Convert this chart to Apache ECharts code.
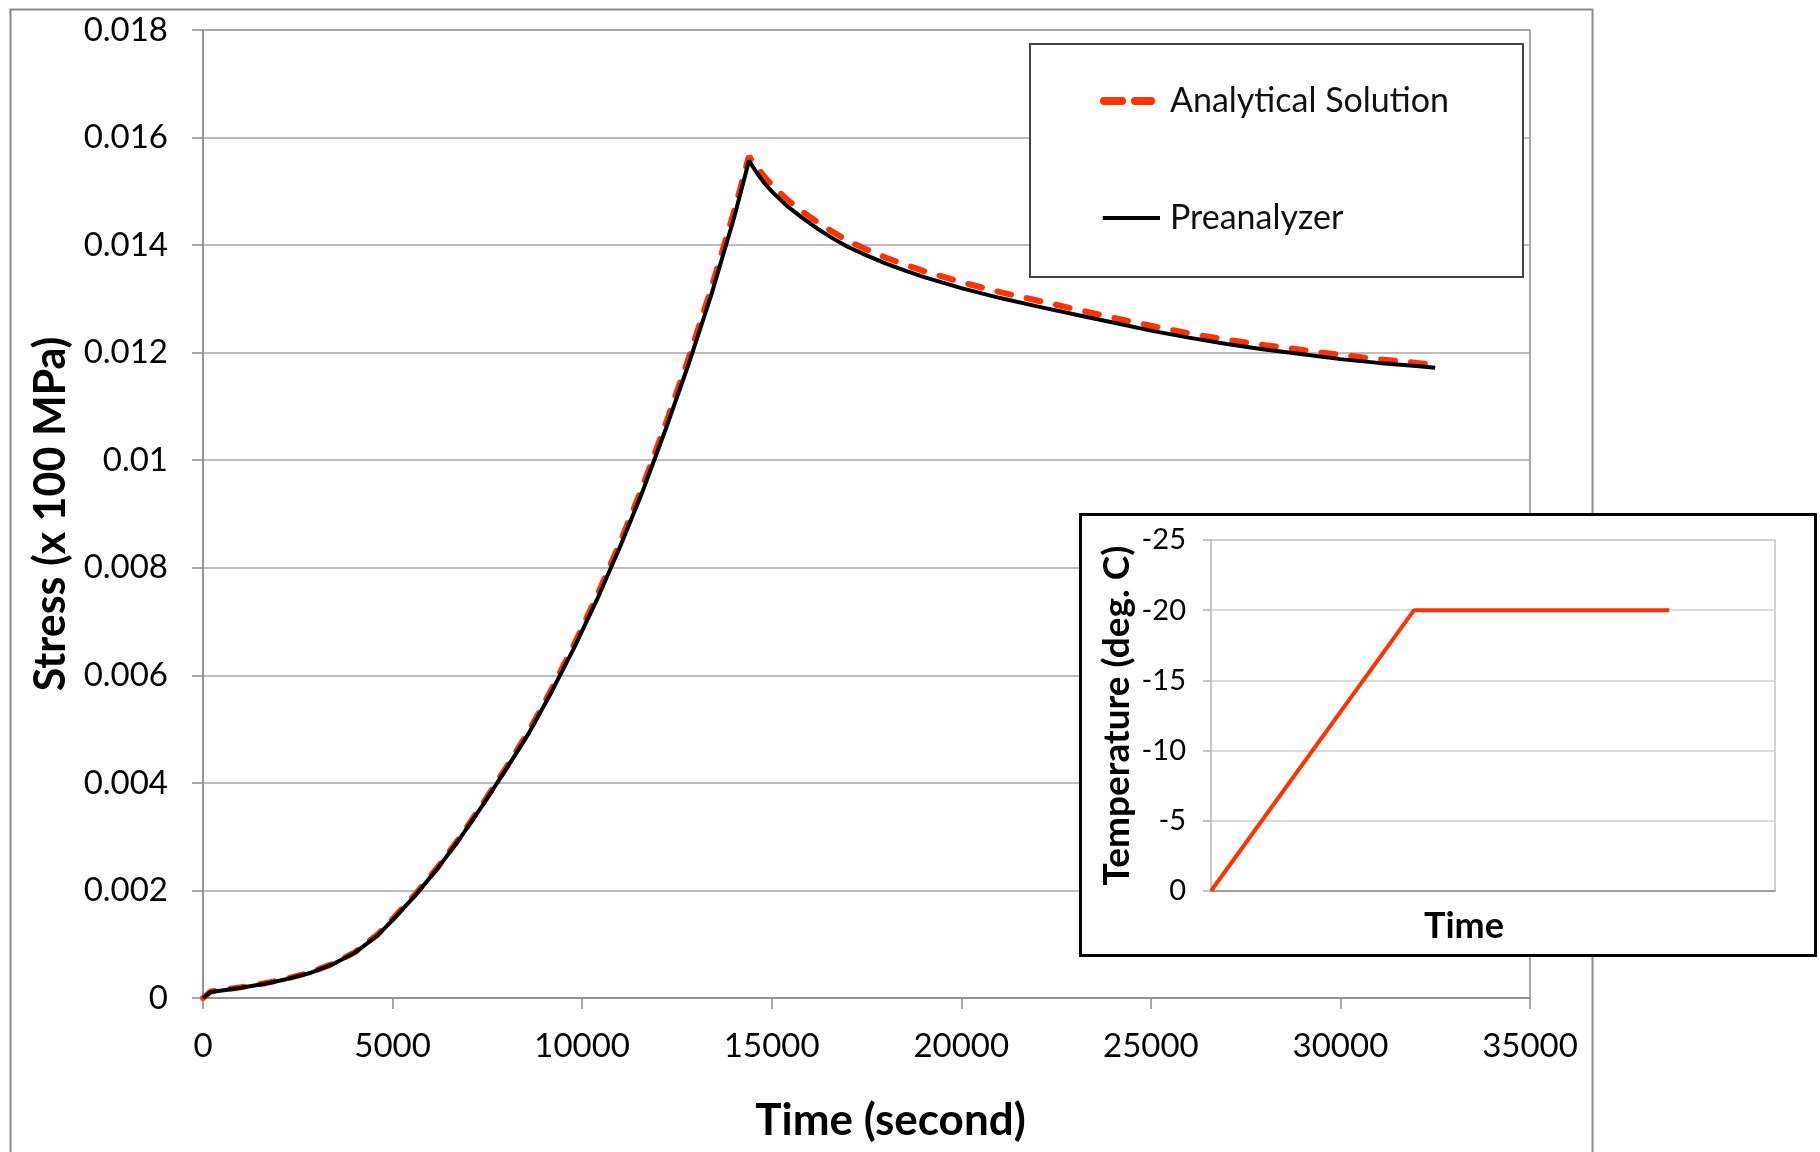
<!DOCTYPE html>
<html>
<head>
<meta charset="utf-8">
<title>Stress vs Time</title>
<script src="https://cdn.jsdelivr.net/npm/echarts@6/dist/echarts.min.js"></script>
<style>
  html, body { margin: 0; padding: 0; background: #fff; }
  #chart { width: 1820px; height: 1152px; }
</style>
</head>
<body>
<div id="chart"></div>
<script>
// main chart: time (s) and stress (x 100 MPa)
var times = [0, 200, 600, 1000, 1600, 2200, 2800, 3400, 4000, 4600, 5000, 5600, 6200, 6800, 7400,
  8000, 8600, 9200, 9800, 10400, 11000, 11600, 12200, 12800, 13400, 14000, 14400,
  14600, 14800, 15000, 15400, 15800, 16200, 16600, 17000, 17500, 18000, 18500, 19000,
  20000, 21000, 22000, 23000, 24000, 25000, 26000, 27000, 28000, 29000, 30000, 31000, 32000, 32500];
var analytical = [0, 0.00012, 0.00016, 0.0002, 0.00027, 0.00036, 0.00047, 0.00063, 0.00085, 0.00118, 0.00147, 0.00193, 0.00244, 0.00301, 0.00364,
  0.00429, 0.00497, 0.00575, 0.00659, 0.00749, 0.00847, 0.00952, 0.01067, 0.01188, 0.01318, 0.01461, 0.01565,
  0.01546, 0.01528, 0.01512, 0.01485, 0.01463, 0.01443, 0.01425, 0.01408, 0.01392, 0.01377, 0.01364, 0.01352,
  0.01331, 0.01313, 0.01297, 0.01281, 0.01265, 0.0125, 0.01236, 0.01224, 0.01214, 0.01205, 0.01196, 0.01188, 0.01181, 0.01177];
var preanalyzer = [0, 0.00011, 0.00015, 0.00019, 0.00026, 0.00035, 0.00046, 0.00062, 0.00084, 0.00116, 0.00145, 0.00191, 0.00242, 0.00299, 0.00361,
  0.00426, 0.00493, 0.0057, 0.00653, 0.00742, 0.00839, 0.00943, 0.01057, 0.01177, 0.01306, 0.01449, 0.01557,
  0.01535, 0.01516, 0.015, 0.01473, 0.01451, 0.01431, 0.01413, 0.01397, 0.01381, 0.01366, 0.01353, 0.01341,
  0.0132, 0.01302, 0.01286, 0.01271, 0.01256, 0.01241, 0.01228, 0.01216, 0.01206, 0.01197, 0.01188, 0.01181, 0.01175, 0.01172];

// inset: temperature history
var insetTimes = [0, 14400, 32500];
var insetTemps = [0, -20, -20];

var font = 'Lato';
var red = '#ff3300';

// legend icons: two rounded dashes / a plain line (tiny specks fix the box size)
var dashIcon = 'path://M0,0 H0.1 V0.1 H0 Z M4,0 H22 A4,4 0 0 1 22,8 H4 A4,4 0 0 1 4,0 Z M35,0 H51 A4,4 0 0 1 51,8 H35 A4,4 0 0 1 35,0 Z M59.9,7.9 H60 V8 H59.9 Z';
var lineIcon = 'path://M0,0 H0.1 V0.1 H0 Z M3,1.8 H64 V6.2 H3 Z M59.9,7.9 H60 V8 H59.9 Z';

function pairs(xs, ys) {
  return xs.map(function (x, i) { return [x, ys[i]]; });
}

var myChart = echarts.init(document.getElementById('chart'));
var option = {
  animation: false,
  textStyle: { fontFamily: font },
  grid: [
    { left: 203, right: 290, top: 30, bottom: 154, show: true, borderColor: '#8c8c8c', borderWidth: 1.5 },
    { left: 1211, right: 45, top: 540, bottom: 261, show: true, borderColor: '#c4c4c4', borderWidth: 1.5, z: 8 }
  ],
  legend: {
    left: 1095,
    top: 79,
    orient: 'vertical',
    itemWidth: 60,
    itemHeight: 9,
    itemGap: 83,
    z: 6,
    textStyle: { fontSize: 34, color: '#111', fontFamily: font, padding: [0, 0, 0, 5] },
    data: [
      { name: 'Analytical Solution', icon: dashIcon },
      { name: 'Preanalyzer', icon: lineIcon }
    ]
  },
  graphic: [
    { type: 'rect', left: 8, top: 7, shape: { width: 1582, height: 1170 }, style: { fill: 'none', stroke: '#8a8a8a', lineWidth: 2 }, z: 1 },
    { type: 'rect', left: 1029, top: 43, shape: { width: 493, height: 233 }, style: { fill: '#fff', stroke: '#444', lineWidth: 2 }, z: 5 },
    { type: 'rect', left: 1079, top: 513, shape: { width: 735, height: 441 }, style: { fill: '#fff', stroke: '#000', lineWidth: 3 }, z: 7 }
  ],
  xAxis: [
    {
      gridIndex: 0, type: 'value', min: 0, max: 35000, interval: 5000,
      name: 'Time (second)', nameLocation: 'middle', nameGap: 101,
      nameTextStyle: { fontSize: 44, fontWeight: 'bold', color: '#000', fontFamily: font, padding: [0, 0, 0, 48] },
      axisLine: { lineStyle: { color: '#8c8c8c', width: 1.5 } },
      axisTick: { show: true, length: 11, lineStyle: { color: '#8c8c8c', width: 1.5 } },
      axisLabel: { fontSize: 33, color: '#000', margin: 32, formatter: function (v) { return String(v); } },
      splitLine: { show: false }
    },
    {
      gridIndex: 1, type: 'value', min: 0, max: 40000, z: 8,
      name: 'Time', nameLocation: 'middle', nameGap: 17,
      nameTextStyle: { fontSize: 36, fontWeight: 'bold', color: '#000', fontFamily: font, padding: [0, 58, 0, 0] },
      axisLine: { lineStyle: { color: '#8c8c8c', width: 1.5 } },
      axisTick: { show: false },
      axisLabel: { show: false },
      splitLine: { show: false }
    }
  ],
  yAxis: [
    {
      gridIndex: 0, type: 'value', min: 0, max: 0.018, interval: 0.002,
      name: 'Stress (x 100 MPa)', nameLocation: 'middle', nameGap: 130,
      nameTextStyle: { fontSize: 43, fontWeight: 'bold', color: '#000', fontFamily: font },
      axisLine: { show: true, lineStyle: { color: '#8c8c8c', width: 1.5 } },
      axisTick: { show: true, length: 11, lineStyle: { color: '#8c8c8c', width: 1.5 } },
      axisLabel: { fontSize: 33, color: '#000', margin: 35 },
      splitLine: { lineStyle: { color: '#a6a6a6', width: 1.5 } }
    },
    {
      gridIndex: 1, type: 'value', min: -25, max: 0, interval: 5, inverse: true, z: 8,
      name: 'Temperature (deg. C)', nameLocation: 'middle', nameGap: 75,
      nameTextStyle: { fontSize: 37, fontWeight: 'bold', color: '#000', fontFamily: font },
      axisLine: { show: true, lineStyle: { color: '#c4c4c4', width: 1.5 } },
      axisTick: { show: true, length: 8, lineStyle: { color: '#b0b0b0', width: 1.5 } },
      axisLabel: { fontSize: 29, color: '#000', margin: 25 },
      splitLine: { lineStyle: { color: '#cfcfcf', width: 1.5 } }
    }
  ],
  series: [
    {
      name: 'Analytical Solution', type: 'line', xAxisIndex: 0, yAxisIndex: 0,
      symbol: 'none', z: 2,
      lineStyle: { color: red, width: 6, type: [14, 16], cap: 'round' },
      itemStyle: { color: red },
      data: pairs(times, analytical)
    },
    {
      name: 'Preanalyzer', type: 'line', xAxisIndex: 0, yAxisIndex: 0,
      symbol: 'none', z: 3,
      lineStyle: { color: '#000', width: 4 },
      itemStyle: { color: '#000' },
      data: pairs(times, preanalyzer)
    },
    {
      name: 'Temperature', type: 'line', xAxisIndex: 1, yAxisIndex: 1,
      symbol: 'none', z: 10,
      lineStyle: { color: red, width: 4 },
      data: pairs(insetTimes, insetTemps)
    }
  ]
};
myChart.clear();
myChart.setOption(option);
</script>
</body>
</html>
